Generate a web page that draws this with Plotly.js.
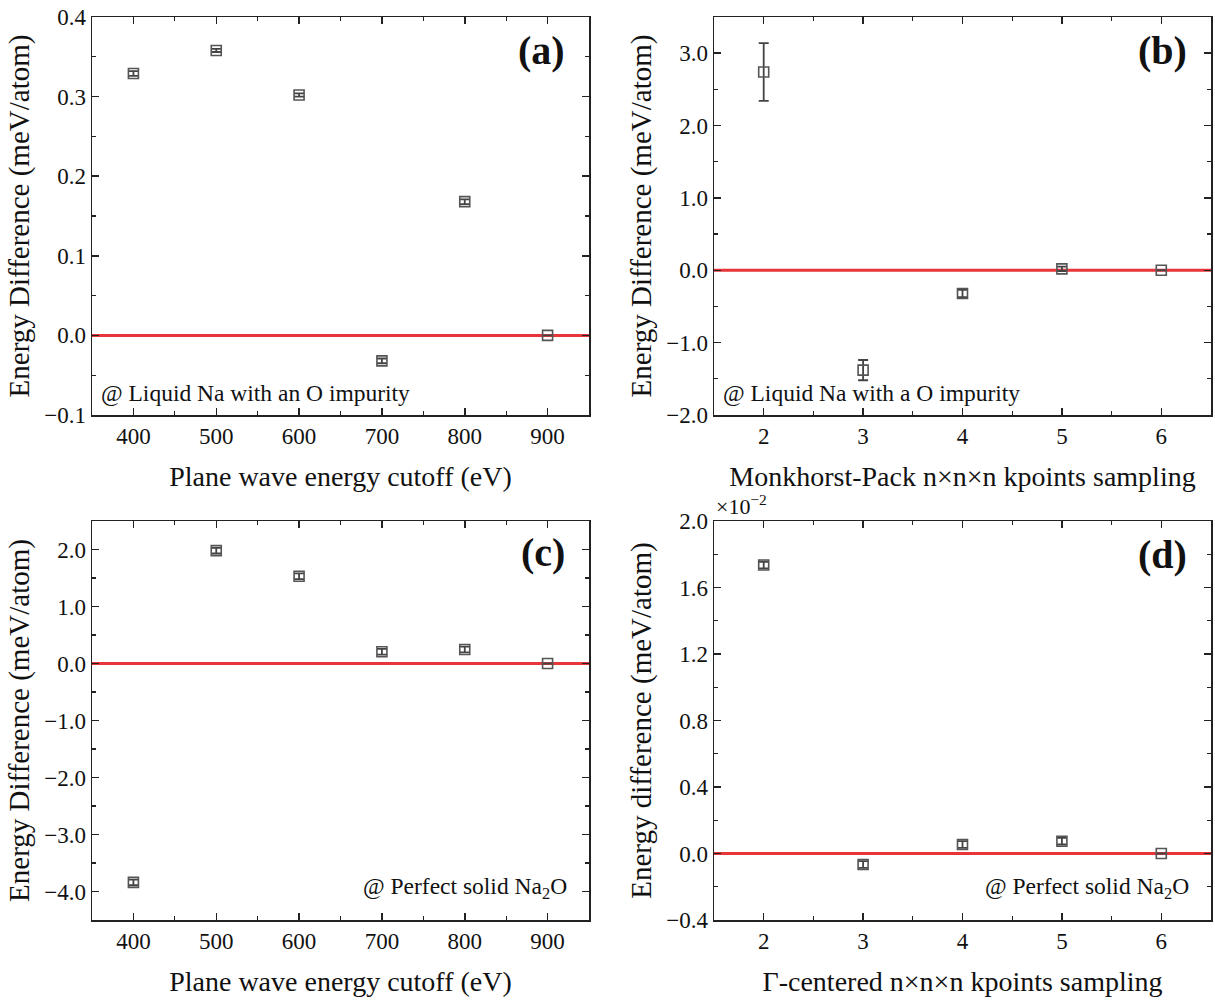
<!DOCTYPE html>
<html>
<head>
<meta charset="utf-8">
<script src="https://cdn.plot.ly/plotly-3.0.1.min.js"></script>
<style>body{margin:0;background:#fff}#chart{width:1215px;height:1000px}</style>
</head>
<body>
<div id="chart"></div>
<script>
// Panel (a): plane-wave cutoff, liquid Na with an O impurity
const cutoffA = [400, 500, 600, 700, 800, 900];
const energyA = [0.329, 0.358, 0.302, -0.032, 0.168, 0.0];
const errA = [0.003, 0.002, 0.002, 0.003, 0.003, 0.0];

// Panel (b): Monkhorst-Pack k-points, liquid Na with a O impurity
const kptsB = [2, 3, 4, 5, 6];
const energyB = [2.74, -1.38, -0.32, 0.02, 0.0];
const errB = [0.40, 0.14, 0.05, 0.03, 0.0];

// Panel (c): plane-wave cutoff, perfect solid Na2O
const cutoffC = [400, 500, 600, 700, 800, 900];
const energyC = [-3.84, 1.98, 1.53, 0.205, 0.246, 0.0];
const errC = [0.05, 0.05, 0.05, 0.05, 0.05, 0.0];

// Panel (d): Gamma-centered k-points, perfect solid Na2O (values in units of 1e-2 meV/atom)
const kptsD = [2, 3, 4, 5, 6];
const energyD = [1.735, -0.066, 0.054, 0.074, 0.0];
const errD = [0.02, 0.02, 0.02, 0.02, 0.0];

const FONT = 'Liberation Serif, Times New Roman, serif';
const MK = '#555555';

function tr(x, y, e, xa, ya) {
  return {
    x: x, y: y, xaxis: xa, yaxis: ya, type: 'scatter', mode: 'markers',
    marker: {symbol: 'square-open', size: 10, color: MK, line: {width: 1.6, color: MK}},
    error_y: {type: 'data', array: e, visible: true, color: '#444', thickness: 1.8, width: 5},
    showlegend: false, hoverinfo: 'x+y'
  };
}

const data = [
  tr(cutoffA, energyA, errA, 'x', 'y'),
  tr(kptsB, energyB, errB, 'x2', 'y2'),
  tr(cutoffC, energyC, errC, 'x3', 'y3'),
  tr(kptsD, energyD, errD, 'x4', 'y4')
];

const xdL = [92/1215, 589/1215], xdR = [714/1215, 1211/1215];
const ydT = [1 - 415/1000, 1 - 17/1000], ydB = [1 - 920/1000, 1 - 521/1000];

function xax(dom, anchor, range, dtick, mdt, title) {
  return {
    domain: dom, anchor: anchor, range: range, dtick: dtick, tick0: 0,
    showgrid: false, zeroline: false, showline: true, linecolor: '#222', linewidth: 1.5,
    mirror: 'allticks', ticks: 'inside', ticklen: 7, tickwidth: 1.5, tickcolor: '#222',
    minor: {ticks: 'inside', ticklen: 4, tickwidth: 1.2, tickcolor: '#222', dtick: mdt, tick0: 0},
    tickfont: {family: FONT, size: 23, color: '#111'},
    title: {text: title, font: {family: FONT, size: 28, color: '#111'}, standoff: 18},
    automargin: false
  };
}
function yax(dom, anchor, range, dtick, mdt, title, fmt) {
  return {
    domain: dom, anchor: anchor, range: range, dtick: dtick, tick0: 0, tickformat: fmt,
    showgrid: false, zeroline: false, showline: true, linecolor: '#222', linewidth: 1.5,
    mirror: 'allticks', ticks: 'inside', ticklen: 7, tickwidth: 1.5, tickcolor: '#222',
    minor: {ticks: 'inside', ticklen: 4, tickwidth: 1.2, tickcolor: '#222', dtick: mdt, tick0: 0},
    tickfont: {family: FONT, size: 23, color: '#111'},
    title: {text: title, font: {family: FONT, size: 29, color: '#111'}, standoff: 6},
    automargin: false
  };
}

function zeroLine(xr, yr) {
  return {type: 'line', xref: xr + ' domain', yref: yr, x0: 0, x1: 1, y0: 0, y1: 0,
          line: {color: '#e8353a', width: 3}, layer: 'below'};
}

function lab(txt, xr, yr, x, y, xa, size, bold) {
  return {text: bold ? '<b>' + txt + '</b>' : txt, xref: xr + ' domain', yref: yr + ' domain',
          x: x, y: y, xanchor: xa, yanchor: 'middle', showarrow: false,
          font: {family: FONT, size: size, color: '#111'}};
}

const layout = {
  width: 1215, height: 1000,
  margin: {l: 0, r: 0, t: 0, b: 0},
  paper_bgcolor: '#fff', plot_bgcolor: '#fff',
  xaxis: xax(xdL, 'y', [350, 950], 100, 50, 'Plane wave energy cutoff (eV)'),
  yaxis: yax(ydT, 'x', [-0.1, 0.4], 0.1, 0.05, 'Energy Difference (meV/atom)', '.1f'),
  xaxis2: xax(xdR, 'y2', [1.5, 6.5], 1, 0.5, 'Monkhorst-Pack n×n×n kpoints sampling'),
  yaxis2: yax(ydT, 'x2', [-2, 3.5], 1, 0.5, 'Energy Difference (meV/atom)', '.1f'),
  xaxis3: xax(xdL, 'y3', [350, 950], 100, 50, 'Plane wave energy cutoff (eV)'),
  yaxis3: yax(ydB, 'x3', [-4.5, 2.5], 1, 0.5, 'Energy Difference (meV/atom)', '.1f'),
  xaxis4: xax(xdR, 'y4', [1.5, 6.5], 1, 0.5, 'Γ-centered n×n×n kpoints sampling'),
  yaxis4: yax(ydB, 'x4', [-0.4, 2.0], 0.4, 0.2, 'Energy difference (meV/atom)', '.1f'),
  shapes: [zeroLine('x', 'y'), zeroLine('x2', 'y2'), zeroLine('x3', 'y3'), zeroLine('x4', 'y4')],
  annotations: [
    lab('(a)', 'x', 'y', 0.955, 0.915, 'right', 40, true),
    lab('(b)', 'x2', 'y2', 0.955, 0.915, 'right', 40, true),
    lab('(c)', 'x3', 'y3', 0.955, 0.92, 'right', 40, true),
    lab('(d)', 'x4', 'y4', 0.955, 0.915, 'right', 40, true),
    lab('@ Liquid Na with an O impurity', 'x', 'y', 0.015, 0.055, 'left', 23.5, false),
    lab('@ Liquid Na with a O impurity', 'x2', 'y2', 0.015, 0.055, 'left', 23.5, false),
    lab('@ Perfect solid Na<sub>2</sub>O', 'x3', 'y3', 0.96, 0.08, 'right', 23.5, false),
    lab('@ Perfect solid Na<sub>2</sub>O', 'x4', 'y4', 0.96, 0.08, 'right', 23.5, false),
    {text: '×10<sup>−2</sup>', xref: 'x4 domain', yref: 'y4 domain', x: 0.0, y: 1.0,
     xanchor: 'left', yanchor: 'bottom', showarrow: false,
     font: {family: FONT, size: 22, color: '#111'}}
  ]
};

Plotly.newPlot('chart', data, layout, {displayModeBar: false, staticPlot: true});
</script>
</body>
</html>
